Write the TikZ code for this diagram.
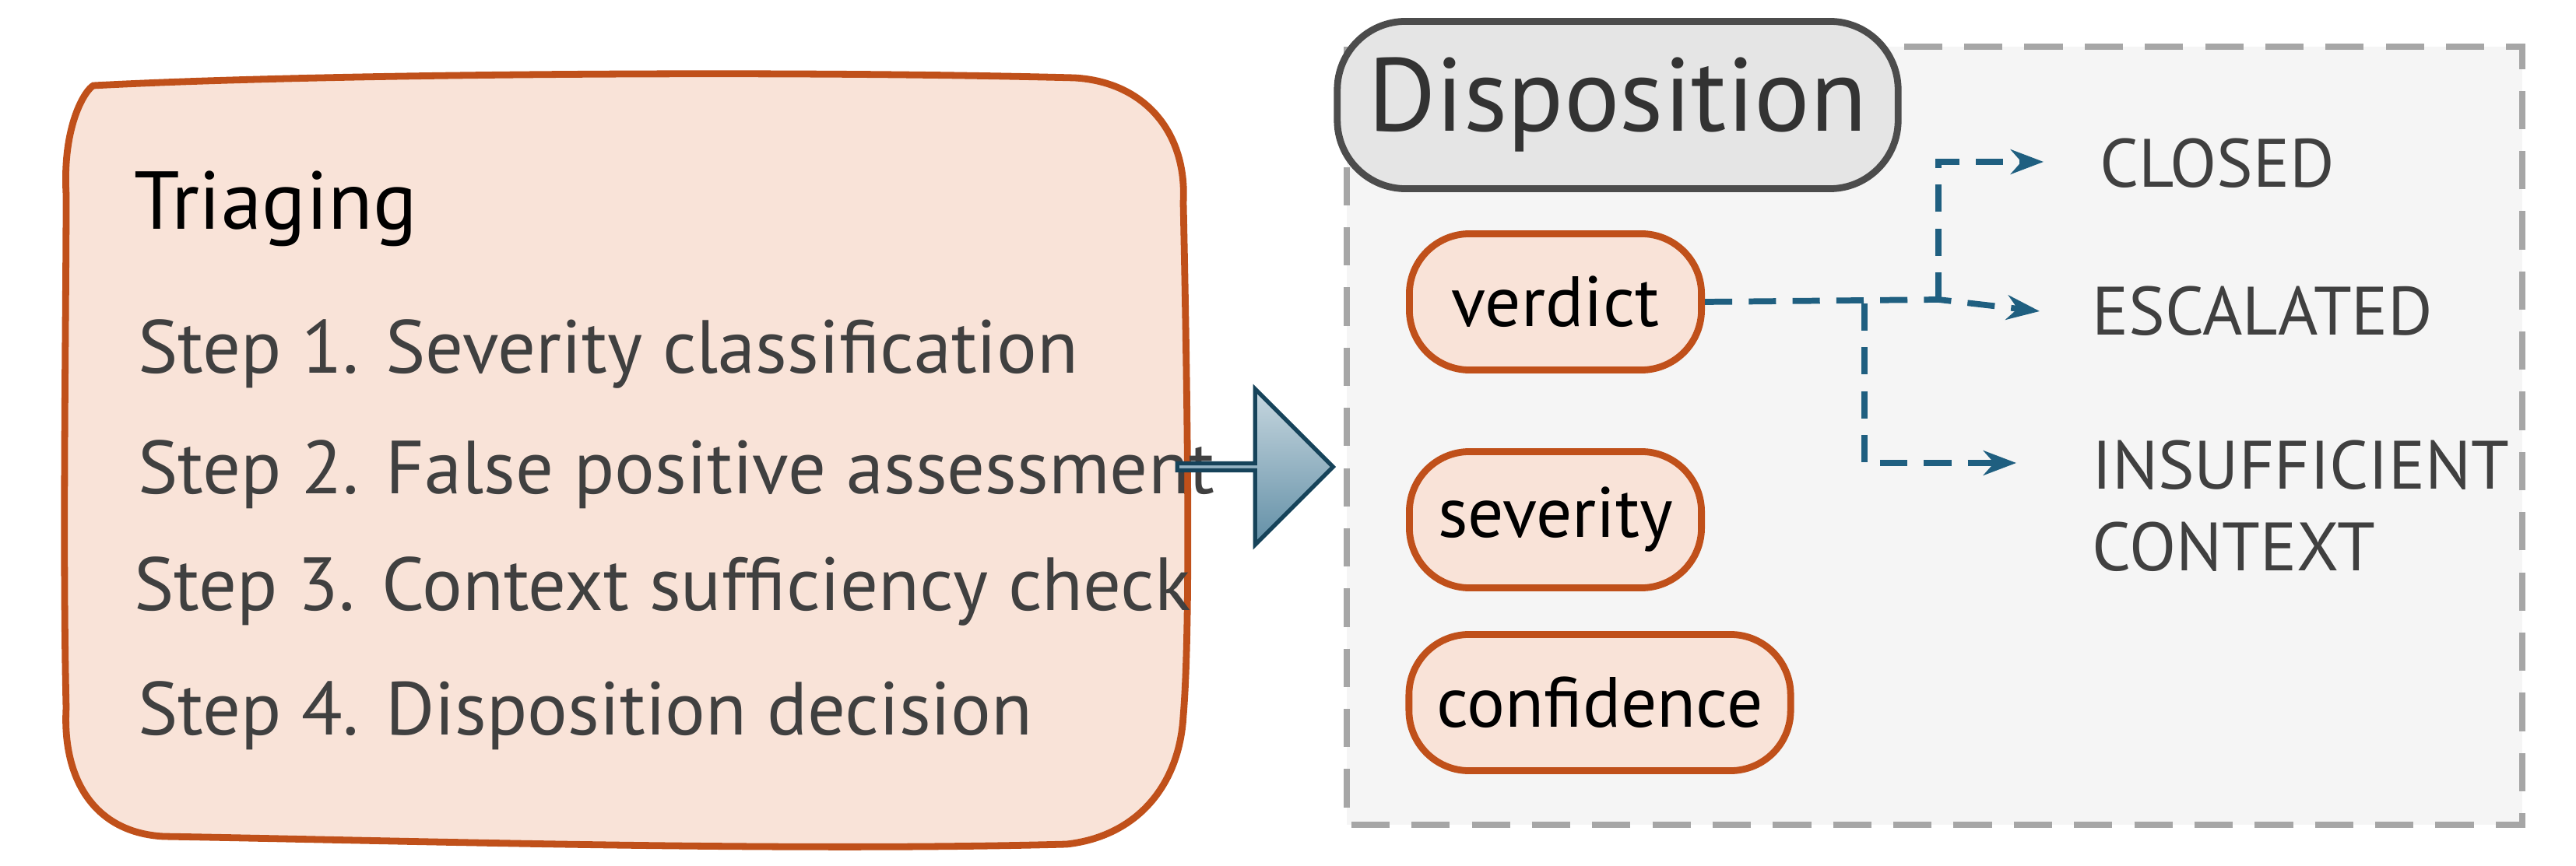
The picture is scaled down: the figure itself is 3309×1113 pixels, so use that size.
\documentclass[tikz,border=0pt]{standalone}
\usepackage{fontspec}
\setmainfont{PT Sans}
\usetikzlibrary{arrows.meta,shapes.arrows}
\definecolor{peach}{HTML}{F9E3D8}
\definecolor{rust}{HTML}{C0501A}
\definecolor{txt}{HTML}{404040}
\definecolor{teal}{HTML}{1F5F80}
\begin{document}
\begin{tikzpicture}[x=0.01cm,y=-0.01cm,
  field/.style={draw=rust,line width=2.5pt,fill=peach,rounded corners=22pt},
  ftxt/.style={font=\fontsize{26}{30}\selectfont,text=black},
  stepline/.style={anchor=west,font=\fontsize{27.5}{32}\selectfont,text=txt},
  lab/.style={anchor=west,font=\fontsize{25}{30}\selectfont,text=txt,align=left},
  conn/.style={draw=teal,line width=2.2pt,dash pattern=on 10pt off 6pt,-{Stealth[length=12pt]}}]
\useasboundingbox (0,0) rectangle (3309,1113);
% triaging
\draw[rust,line width=2.5pt,fill=peach] (120,110) .. controls (400,95) and (1000,90) .. (1380,100)
  .. controls (1470,105) and (1525,170) .. (1520,260) .. controls (1525,500) and (1530,800) .. (1520,920)
  .. controls (1515,1010) and (1460,1075) .. (1370,1085) .. controls (1000,1095) and (500,1080) .. (210,1075)
  .. controls (120,1070) and (80,1000) .. (85,910) .. controls (80,700) and (85,400) .. (85,250)
  .. controls (80,160) and (110,115) .. (120,110) -- cycle;
\node[anchor=west,font=\fontsize{30}{36}\selectfont,text=black] (tri) at (160,268) {Triaging};
\node[stepline] (s1) at (165,455) {Step 1. Severity classification};
\node[stepline] (s2) at (165,610) {Step 2. False positive assessment};
\node[stepline] (s3) at (160,760) {Step 3. Context sufficiency check};
\node[stepline] (s4) at (165,920) {Step 4. Disposition decision};
% arrow
\node[single arrow,draw=teal!70!black,line width=1.5pt,top color=teal!25,bottom color=teal!70,
  minimum height=2cm,minimum width=2cm,single arrow head extend=0.55cm,inner sep=0pt,
  shading angle=0] (arr) at (1610,600) {};
% disposition panel
\draw[gray!70,line width=2.5pt,dash pattern=on 14pt off 8pt,fill=gray!8] (1730,60) rectangle (3240,1060);
\node[draw=black!70,line width=2.5pt,fill=gray!20,rounded corners=25pt,minimum width=7.2cm,minimum height=2.15cm,
  font=\fontsize{38}{44}\selectfont,text=black!80] (disp) at (2078,135) {Disposition};
\node[field,ftxt,minimum width=3.75cm,minimum height=1.75cm] (ver) at (1998,388) {verdict};
\node[field,ftxt,minimum width=3.75cm,minimum height=1.75cm] (sev) at (1998,668) {severity};
\node[field,ftxt,minimum width=4.9cm,minimum height=1.75cm] (con) at (2055,903) {confidence};
\node[lab] (clo) at (2685,210) {CLOSED};
\node[lab] (esc) at (2675,400) {ESCALATED};
\node[lab] (ins) at (2675,650) {INSUFFICIENT\\CONTEXT};
\coordinate (b1) at (2490,385);
\coordinate (b2) at (2395,390);
\coordinate (e1) at (2620,400);
\coordinate (e2) at (2625,208);
\coordinate (e3) at (2590,595);
\draw[conn] (ver.east) -- (b1) -- (e1);
\draw[conn] (b1) -- (2490,208) -- (e2);
\draw[conn] (b2) -- (2395,595) -- (e3);
\end{tikzpicture}
\end{document}
